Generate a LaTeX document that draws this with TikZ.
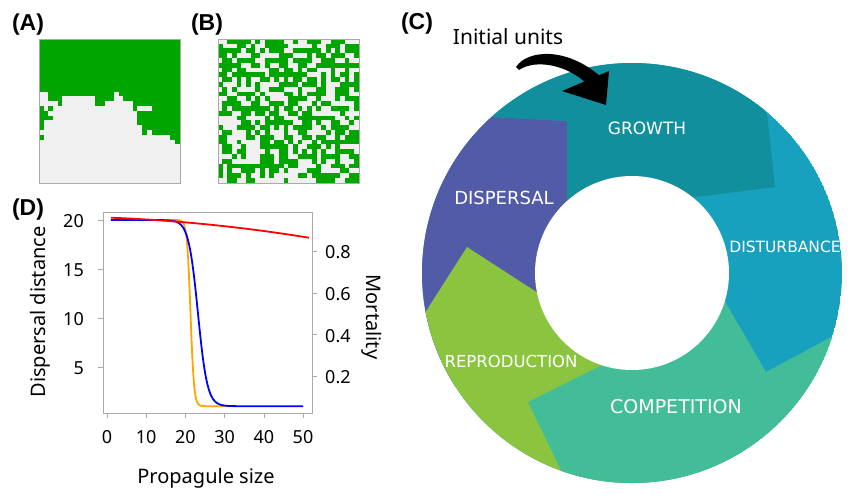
\documentclass[tikz,border=0pt]{standalone}
\usepackage{fontspec}
\setmainfont{Noto Sans}
\newfontfamily\ringfont{DejaVu Sans}
\newfontfamily\panelfont{Liberation Sans}
\usepackage{tikz}
\usetikzlibrary{positioning}

\definecolor{cellgreen}{HTML}{00A500}
\definecolor{cellgray}{HTML}{F0F0F0}
\definecolor{growthcol}{HTML}{128F9D}
\definecolor{disturbcol}{HTML}{17A1BF}
\definecolor{competecol}{HTML}{43BD97}
\definecolor{reprocol}{HTML}{8BC540}
\definecolor{dispcol}{HTML}{525BA8}
\definecolor{framegray}{HTML}{AAAAAA}
\definecolor{mortorange}{HTML}{FFA500}

\tikzset{
  panel/.style={font=\panelfont\bfseries\fontsize{23}{23}\selectfont},
  ringlabel/.style={text=white, inner sep=0pt},
  ticklabel/.style={inner sep=0pt, font=\fontsize{18}{18}\selectfont},
  axislabel/.style={inner sep=0pt, font=\fontsize{20}{20}\selectfont},
  curve/.style={line width=1.8pt, line join=round}
}

\begin{document}
\begin{tikzpicture}[y=-1pt,x=1pt]
	\newcommand\Cell{+(0,0) rectangle +(1.03,1.03)}
	\useasboundingbox (0,0) rectangle (856,499);

	% panel letters
	\node[panel] (labA) at (28,25) {(A)};
	\node[panel] (labB) at (207,25) {(B)};
	\node[panel] (labC) at (417,24) {(C)};
	\node[panel] (labD) at (28,210) {(D)};

	% (A) clustered landscape
	\begin{scope}[shift={(38.7,38.7)},x=4.7pt,y=-4.8pt]
		\fill[cellgray] (0,0) rectangle (30,30);
		\foreach \c/\h in {0/11,1/11,2/13,3/13,4/14,5/12,6/12,7/12,8/12,9/12,10/12,11/12,
		                   12/14,13/14,14/13,15/13,16/11,17/12,18/13,19/13,20/15,21/18,
		                   22/20,23/19,24/20,25/20,26/20,27/20,28/21,29/22}
			\fill[cellgreen] (\c,0) rectangle (\c+1.03,\h);
		\foreach \c/\r in {0/14,0/15,0/16,0/17,0/18,1/15,1/16,2/14,2/16,0/20}
			\fill[cellgreen] (\c,\r) \Cell;
		\fill[cellgray] (21,14) rectangle (24,15);
		\draw[framegray] (0,0) rectangle (30,30);
	\end{scope}

	% (B) random landscape
	\begin{scope}[shift={(217.7,38.7)},x=4.7pt,y=-4.8pt]
		\fill[cellgray] (0,0) rectangle (30,30);
		\pgfmathsetseed{4207}
		\foreach \c in {0,...,29}
			\foreach \r in {0,...,29}{
				\pgfmathtruncatemacro\pick{rnd<0.55}
				\ifnum\pick=1 \fill[cellgreen] (\c,\r) \Cell; \fi
			}
		\draw[framegray] (0,0) rectangle (30,30);
	\end{scope}

	% (D) plot
	\draw[framegray] (103,212) rectangle (312,413);
	\foreach \v/\py in {20/220,15/269,10/318,5/367}{
		\draw[framegray] (103,\py) -- (98,\py);
		\node[ticklabel, anchor=east] at (84,\py+1) {\v};
	}
	\foreach \v/\py in {0.2/376.3,0.4/334.6,0.6/292.9,0.8/251.2}{
		\draw[framegray] (312,\py) -- (317,\py);
		\node[ticklabel, anchor=west] at (325,\py+1) {\v};
	}
	\foreach \v/\px in {0/107,10/146.2,20/185.4,30/224.6,40/263.8,50/303}{
		\draw[framegray] (\px,413) -- (\px,418);
		\node[ticklabel] at (\px,437) {\v};
	}
	\node[axislabel, anchor=base] (xlab) at (206,483) {Propagule size};
	\node[axislabel, rotate=90] (ylab) at (40,312) {Dispersal distance};
	\node[axislabel, rotate=-90] (y2lab) at (372,317) {Mortality};

	\begin{scope}[shift={(107,416)},x=3.92pt,y=9.8pt]
		\draw[curve, mortorange] plot[domain=1:31,samples=150]
			(\x,{1+19/(1+exp(min(9,max(-9,(\x-21.3)/0.45))))});
		\draw[curve, blue] plot[domain=1:50,samples=200]
			(\x,{1+19/(1+exp(min(9,max(-9,(\x-23.2)/1.2))))});
		\draw[curve, red] plot[domain=1:51.5,samples=60]
			(\x,{20.25-0.0148*\x-0.000483*\x*\x});
	\end{scope}

	% (C) cycle
	\coordinate (hub) at (632,273);
	\begin{scope}
		\clip (hub) circle[radius=210pt];
		\fill[disturbcol] (hub) circle[radius=210pt];
		\fill[dispcol] (567,250) -- (567,121) -- (400,112) -- (400,420) -- (572,315) -- cycle;
		\fill[reprocol] (572,315) -- (467,247) -- (400,352) -- (400,520) -- (620,520) -- (hub) -- cycle;
		\fill[competecol] (630,351) -- (528,402) -- (585,520) -- (880,520) -- (880,311)
			-- (766,372) -- (716,286) -- (hub) -- cycle;
		\fill[growthcol] (567,250) -- (567,121) -- (440,114) -- (440,40) -- (759,40)
			-- (775,187) -- (680,199) -- (hub) -- cycle;
	\end{scope}
	\fill[white] (hub) circle[radius=97pt];

	\node[ringlabel, font=\ringfont\fontsize{17}{17}\selectfont] (growth) at (647,128) {GROWTH};
	\node[ringlabel, font=\ringfont\fontsize{18}{18}\selectfont] (dispersal) at (504,198) {DISPERSAL};
	\node[ringlabel, font=\ringfont\fontsize{15.5}{15.5}\selectfont] (disturb) at (785,247) {DISTURBANCE};
	\node[ringlabel, font=\ringfont\fontsize{16.5}{16.5}\selectfont] (repro) at (511,361) {REPRODUCTION};
	\node[ringlabel, font=\ringfont\fontsize{19}{19}\selectfont] (compete) at (676,407) {COMPETITION};

	% initial units arrow
	\node[axislabel, font=\fontsize{21}{21}\selectfont] (init) at (508,37) {Initial units};
	\coordinate (tail) at (516,67);
	\coordinate (tip) at (606,105);
	\fill (tail) .. controls (527,50) and (566,46) .. (601,77) -- (589,86)
		.. controls (568,64) and (535,59) .. (519,70) -- cycle;
	\fill (562,91) -- (609,71) -- (tip) -- cycle;
\end{tikzpicture}
\end{document}
